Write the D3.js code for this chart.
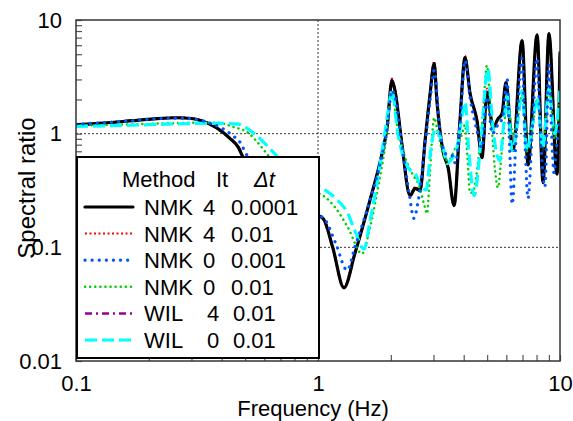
<!DOCTYPE html>
<html>
<head>
<meta charset="utf-8">
<script src="https://cdn.jsdelivr.net/npm/d3@7"></script>
<style>
  body { margin: 0; background: #fff; }
  svg { font-family: "Liberation Sans", Arial, sans-serif; }
</style>
</head>
<body>
<svg width="573" height="421"></svg>
<script>

// series: [frequency Hz, spectral ratio]
let nmk4_0001 = [
  [0.1,1.20],[0.13,1.24],[0.17,1.30],[0.21,1.35],[0.26,1.38],[0.3,1.36],[0.33,1.30],[0.38,1.13],
  [0.43,0.92],[0.47,0.75],[0.49,0.62],[0.6,0.38],[0.75,0.26],[0.9,0.21],[1.05,0.179],[1.15,0.1],
  [1.28,0.044],[1.42,0.088],[1.64,0.26],[1.84,0.67],[1.93,1.13],[2.02,2.93],[2.08,2.39],[2.22,0.82],
  [2.4,0.285],[2.52,0.33],[2.64,0.315],[2.77,0.87],[2.9,2.16],[3.02,4.13],[3.1,1.95],[3.28,0.71],
  [3.45,0.5],[3.65,0.233],[3.86,1.3],[4.05,4.66],[4.25,2.25],[4.54,1.3],[4.76,0.615],[4.99,2.3],
  [5.29,1.13],[5.54,1.35],[5.76,1.5],[5.98,2.81],[6.39,0.71],[6.97,6.58],[7.38,0.53],[8.04,7.4],
  [8.51,0.37],[9.0,7.58],[9.72,0.44],[10,5.16]
];

let nmk4_01 = [
  [0.1,1.21],[0.13,1.25],[0.17,1.30],[0.21,1.35],[0.26,1.39],[0.3,1.37],[0.33,1.31],[0.38,1.14],
  [0.43,0.93],[0.47,0.76],[0.49,0.63],[0.6,0.39],[0.75,0.26],[0.9,0.21],[1.05,0.18],[1.15,0.1],
  [1.28,0.045],[1.42,0.09],[1.64,0.26],[1.84,0.68],[1.93,1.15],[2.02,3.05],[2.08,2.45],[2.22,0.83],
  [2.4,0.29],[2.52,0.34],[2.64,0.32],[2.77,0.88],[2.9,2.2],[3.02,4.35],[3.1,2.0],[3.28,0.72],
  [3.45,0.5],[3.65,0.24],[3.86,1.32],[4.05,4.85],[4.25,2.3],[4.54,1.3],[4.76,0.62],[4.99,2.5],
  [5.29,1.15],[5.54,1.36],[5.76,1.52],[5.98,2.9],[6.39,0.72],[6.97,6.6],[7.38,0.54],[8.04,7.4],
  [8.51,0.38],[9.0,7.6],[9.72,0.45],[10,5.2]
];

let nmk0_001 = [
  [0.1,1.21],[0.13,1.25],[0.17,1.30],[0.21,1.35],[0.26,1.37],[0.3,1.35],[0.34,1.28],[0.4,1.12],
  [0.445,0.96],[0.48,0.82],[0.5,0.69],[0.6,0.42],[0.75,0.27],[0.9,0.21],[1.06,0.179],[1.18,0.11],
  [1.32,0.063],[1.42,0.1],[1.64,0.26],[1.84,0.65],[1.93,1.1],[2.02,2.4],[2.08,2.1],[2.22,0.8],
  [2.38,0.3],[2.49,0.18],[2.59,0.25],[2.77,0.8],[2.9,1.9],[3.02,3.6],[3.19,1.06],[3.35,0.67],
  [3.58,0.64],[3.7,0.55],[3.86,1.2],[4.05,4.4],[4.25,2.07],[4.54,1.06],[4.76,0.75],[4.99,2.1],
  [5.25,1.0],[5.54,1.2],[5.8,1.4],[6.05,3.0],[6.2,0.7],[6.34,0.24],[6.6,1.0],[6.97,4.6],
  [7.15,1.0],[7.38,0.27],[7.7,1.2],[8.04,4.6],[8.3,1.0],[8.66,0.34],[9.0,4.0],[9.3,0.7],
  [9.45,0.45],[9.7,0.8],[10,1.3]
];

let nmk0_01 = [
  [0.1,1.18],[0.15,1.2],[0.2,1.22],[0.26,1.24],[0.32,1.25],[0.38,1.25],[0.445,1.15],[0.52,1.0],
  [0.565,0.83],[0.61,0.68],[0.7,0.48],[0.85,0.33],[1.05,0.285],[1.18,0.223],[1.33,0.149],[1.52,0.088],
  [1.64,0.149],[1.77,0.335],[1.89,0.75],[2.02,2.25],[2.12,1.2],[2.25,0.7],[2.45,0.445],[2.6,0.36],
  [2.77,0.223],[2.82,0.198],[2.9,0.45],[3.02,1.38],[3.12,1.06],[3.28,0.67],[3.45,0.58],[3.7,0.75],
  [3.94,1.0],[4.05,1.2],[4.15,0.6],[4.25,0.3],[4.4,0.32],[4.6,0.6],[4.8,1.5],[4.99,3.96],
  [5.2,1.3],[5.38,0.5],[5.54,0.335],[5.75,0.7],[6.05,1.84],[6.4,1.0],[6.7,1.4],[6.97,2.2],
  [7.3,0.7],[7.6,0.9],[8.04,2.0],[8.5,0.8],[9.0,2.6],[9.5,0.9],[10,2.2]
];

let wil4_01 = [
  [0.1,1.20],[0.13,1.24],[0.17,1.30],[0.21,1.35],[0.26,1.38],[0.3,1.36],[0.33,1.30],[0.38,1.13],
  [0.43,0.92],[0.47,0.75],[0.49,0.62],[0.6,0.38],[0.75,0.26],[0.9,0.21],[1.05,0.179],[1.15,0.1],
  [1.28,0.044],[1.42,0.088],[1.64,0.26],[1.84,0.67],[1.93,1.13],[2.02,2.95],[2.08,2.4],[2.22,0.82],
  [2.4,0.285],[2.52,0.33],[2.64,0.315],[2.77,0.87],[2.9,2.16],[3.02,4.15],[3.1,1.95],[3.28,0.71],
  [3.45,0.5],[3.65,0.235],[3.86,1.3],[4.05,4.7],[4.25,2.25],[4.54,1.3],[4.76,0.615],[4.99,2.35],
  [5.29,1.13],[5.54,1.35],[5.76,1.5],[5.98,2.82],[6.39,0.71],[6.97,6.58],[7.38,0.53],[8.04,7.4],
  [8.51,0.37],[9.0,7.58],[9.72,0.44],[10,5.3]
];

let wil0_01 = [
  [0.1,1.16],[0.15,1.18],[0.2,1.2],[0.26,1.22],[0.32,1.23],[0.4,1.23],[0.46,1.22],[0.54,1.02],
  [0.6,0.83],[0.66,0.67],[0.75,0.5],[0.9,0.38],[1.05,0.328],[1.18,0.27],[1.33,0.198],[1.42,0.14],
  [1.55,0.097],[1.64,0.17],[1.75,0.36],[1.86,0.82],[1.95,1.59],[2.02,2.39],[2.14,1.0],[2.36,0.5],
  [2.52,0.445],[2.7,0.33],[2.8,0.32],[2.92,0.7],[3.05,1.1],[3.3,0.75],[3.41,0.545],[3.57,0.6],
  [3.75,0.75],[3.97,1.59],[4.05,1.9],[4.2,0.7],[4.42,0.285],[4.7,0.8],[5.04,3.7],[5.25,1.3],
  [5.45,0.7],[5.64,0.58],[5.85,1.2],[6.05,2.2],[6.34,0.71],[6.7,1.3],[6.97,2.39],[7.3,0.71],
  [7.7,1.2],[8.04,2.07],[8.5,0.75],[9.0,2.5],[9.5,1.0],[10,2.5]
];

let legendMethod = ['NMK', 'NMK', 'NMK', 'NMK', 'WIL', 'WIL'];
let legendIt = ['4', '4', '0', '0', '4', '0'];
let legendDt = ['0.0001', '0.01', '0.001', '0.01', '0.01', '0.01'];

let xMajor = [0.1, 1, 10];
let yMajor = [0.01, 0.1, 1, 10];

let series = [
  { data: nmk4_01, color: '#ff0000', width: 2, dash: '2,2.5', cap: 'butt' },
  { data: wil4_01, color: '#990099', width: 2.5, dash: '7,4,2,4', cap: 'butt' },
  { data: nmk4_0001, color: '#000000', width: 3.2, dash: null, cap: 'round' },
  { data: nmk0_01, color: '#00cc00', width: 2.5, dash: '0.1,5', cap: 'round' },
  { data: wil0_01, color: '#00ffff', width: 3.2, dash: '12,5', cap: 'butt' },
  { data: nmk0_001, color: '#0055ff', width: 3.2, dash: '0.1,7', cap: 'round' }
];
// legend order
let legendSeries = [2, 0, 5, 3, 1, 4];

let svg = d3.select('svg');

let plotLeft = 76, plotRight = 560, plotTop = 20, plotBottom = 361;

let xScale = d3.scaleLog()
               .domain([0.1, 10])
               .range([plotLeft, plotRight]);

let yScale = d3.scaleLog()
               .domain([0.01, 10])
               .range([plotBottom, plotTop]);

svg.append('defs')
   .append('clipPath')
   .attr('id', 'plotClip')
   .append('rect')
   .attr('x', plotLeft)
   .attr('y', plotTop)
   .attr('width', plotRight - plotLeft)
   .attr('height', plotBottom - plotTop);

// dotted reference lines
svg.selectAll('line.hgrid')
   .data([1, 0.1])
   .enter()
   .append('line')
   .attr('class', 'hgrid')
   .attr('x1', plotLeft)
   .attr('x2', plotRight)
   .attr('y1', function(d) { return yScale(d); })
   .attr('y2', function(d) { return yScale(d); })
   .attr('stroke', '#333')
   .attr('stroke-width', 1)
   .attr('stroke-dasharray', '2,2');

svg.append('line')
   .attr('x1', xScale(1))
   .attr('x2', xScale(1))
   .attr('y1', plotTop)
   .attr('y2', plotBottom)
   .attr('stroke', '#333')
   .attr('stroke-width', 1)
   .attr('stroke-dasharray', '2,2');

// minor + major ticks
let xTicks = [];
let yTicks = [];
[0.1, 1].forEach(function(d) {
  for (let i = 1; i < 10; i++) xTicks.push(d * i);
});
[0.01, 0.1, 1].forEach(function(d) {
  for (let i = 1; i < 10; i++) yTicks.push(d * i);
});
xTicks.push(10);
yTicks.push(10);

function labelFor(majors) {
  return function(d) {
    let hit = majors.find(function(m) { return Math.abs(d - m) / m < 1e-6; });
    return hit === undefined ? '' : String(hit);
  };
}

let xAxis = d3.axisBottom(xScale)
              .tickValues(xTicks)
              .tickFormat(labelFor(xMajor))
              .tickSizeInner(-6)
              .tickSizeOuter(0)
              .tickPadding(14);

let yAxis = d3.axisLeft(yScale)
              .tickValues(yTicks)
              .tickFormat(labelFor(yMajor))
              .tickSizeInner(-6)
              .tickSizeOuter(0)
              .tickPadding(14);

let xg = svg.append('g')
            .attr('transform', 'translate(0,' + plotBottom + ')')
            .call(xAxis);

let yg = svg.append('g')
            .attr('transform', 'translate(' + plotLeft + ',0)')
            .call(yAxis);

[xg, yg].forEach(function(g) {
  g.select('.domain').remove();
  g.selectAll('.tick line').attr('stroke', '#555').attr('stroke-width', 1.2);
  g.selectAll('.tick text')
   .attr('fill', '#000')
   .style('font-size', '22px')
   .style('font-family', '"Liberation Sans", Arial, sans-serif');
});

let line = d3.line()
             .x(function(d) { return xScale(d[0]); })
             .y(function(d) { return yScale(d[1]); })
             .curve(d3.curveMonotoneX);

svg.append('g')
   .attr('clip-path', 'url(#plotClip)')
   .selectAll('path.series')
   .data(series)
   .enter()
   .append('path')
   .attr('class', 'series')
   .attr('d', function(d) { return line(d.data); })
   .attr('fill', 'none')
   .attr('stroke', function(d) { return d.color; })
   .attr('stroke-width', function(d) { return d.width; })
   .attr('stroke-dasharray', function(d) { return d.dash; })
   .attr('stroke-linecap', function(d) { return d.cap; })
   .attr('stroke-linejoin', 'round');

// plot frame
svg.append('rect')
   .attr('x', plotLeft)
   .attr('y', plotTop)
   .attr('width', plotRight - plotLeft)
   .attr('height', plotBottom - plotTop)
   .attr('fill', 'none')
   .attr('stroke', '#333')
   .attr('stroke-width', 1.5);

// axis titles
svg.append('text')
   .attr('x', 313)
   .attr('y', 416)
   .attr('text-anchor', 'middle')
   .style('font-size', '22px')
   .text('Frequency (Hz)');

svg.append('text')
   .attr('transform', 'translate(35,188) rotate(-90)')
   .attr('text-anchor', 'middle')
   .style('font-size', '24px')
   .text('Spectral ratio');

// legend
let lg = svg.append('g');

lg.append('rect')
  .attr('x', 77)
  .attr('y', 157)
  .attr('width', 242)
  .attr('height', 201)
  .attr('fill', '#fff')
  .attr('stroke', '#000')
  .attr('stroke-width', 2);

let head = lg.append('text')
             .attr('y', 187)
             .style('font-size', '22px');
head.append('tspan').attr('x', 122).text('Method');
head.append('tspan').attr('x', 216).text('It');
head.append('tspan').attr('x', 254).style('font-style', 'italic').text('\u0394t');

let rows = lg.selectAll('g.row')
             .data(legendSeries)
             .enter()
             .append('g')
             .attr('class', 'row')
             .attr('transform', function(d, i) { return 'translate(0,' + (207 + i * 26.6) + ')'; });

rows.append('line')
    .attr('x1', 85)
    .attr('x2', 133)
    .attr('y1', 0)
    .attr('y2', 0)
    .attr('stroke', function(d) { return series[d].color; })
    .attr('stroke-width', function(d) { return series[d].width; })
    .attr('stroke-dasharray', function(d) { return series[d].dash; })
    .attr('stroke-linecap', function(d) { return series[d].cap; });

rows.append('text')
    .attr('x', 144)
    .attr('y', 8)
    .style('font-size', '22px')
    .text(function(d, i) { return legendMethod[i]; });

rows.append('text')
    .attr('x', function(d, i) { return legendMethod[i] === 'WIL' ? 207 : 203; })
    .attr('y', 8)
    .style('font-size', '22px')
    .text(function(d, i) { return legendIt[i]; });

rows.append('text')
    .attr('x', function(d, i) { return legendMethod[i] === 'WIL' ? 233 : 231; })
    .attr('y', 8)
    .style('font-size', '22px')
    .text(function(d, i) { return legendDt[i]; });

</script>
</body>
</html>
